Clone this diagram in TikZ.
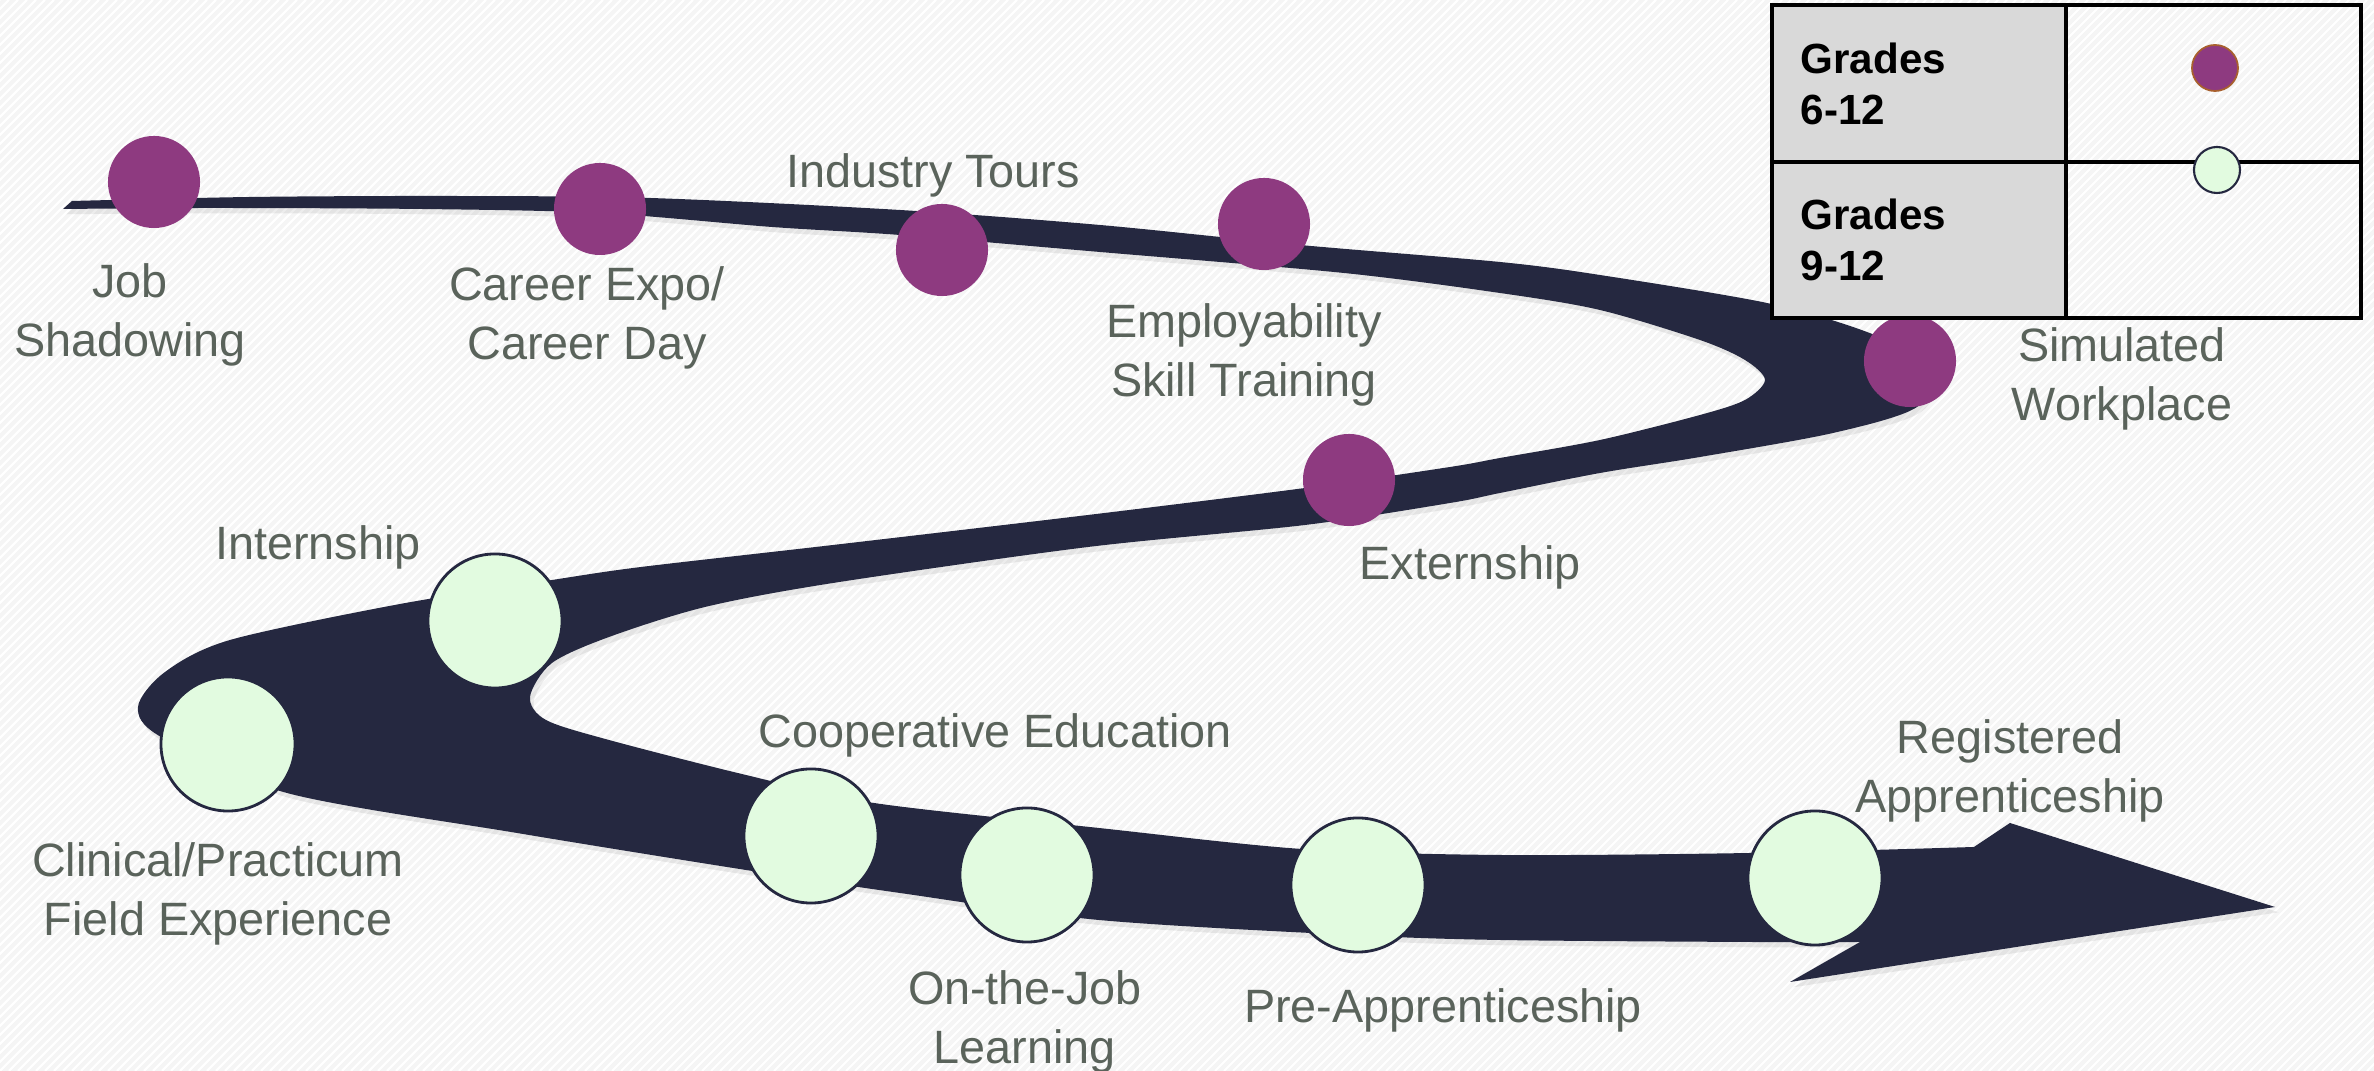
\documentclass[tikz,border=0pt]{standalone}
\usepackage{fontspec}
\setmainfont{Liberation Sans}
\usetikzlibrary{shadows}
\definecolor{ribbon}{HTML}{252840}
\definecolor{plum}{HTML}{8E3A80}
\definecolor{mint}{HTML}{E2FBE0}
\definecolor{labelgray}{HTML}{5A635B}
\definecolor{bggray}{HTML}{F5F5F5}
\definecolor{cellgray}{HTML}{D9D9D9}
\definecolor{plumrim}{HTML}{A8602E}
\begin{document}
\begin{tikzpicture}[x=0.01cm,y=-0.01cm,
    pdot/.style={circle,fill=plum,minimum size=0.92cm,inner sep=0pt},
    gdot/.style={circle,fill=mint,draw=ribbon,line width=0.8pt,minimum size=1.34cm,inner sep=0pt},
    lbl/.style={text=labelgray,align=center,inner sep=0pt,font=\fontsize{13.3}{16.8}\selectfont},
    grade/.style={anchor=west,align=left,inner sep=0pt,font=\fontsize{12}{14.5}\selectfont\bfseries}]
  \useasboundingbox (0,0) rectangle (2374,1071);
  % background
  \fill[bggray] (0,0) rectangle (2374,1071);
  \begin{scope}
    \clip (0,0) rectangle (2374,1071);
    \foreach \i in {-1080,-1071,...,2380}
      \draw[white,line width=0.6pt] (\i,1071) -- ++(1071,-1071);
  \end{scope}
  % the path
  \fill[ribbon,drop shadow={opacity=0.15,shadow xshift=1pt,shadow yshift=-1.5pt}]
    (63,209) -- plot[smooth] coordinates {(72,201) (250,197) (450,196) (650,198)
      (900,210) (1100,225) (1300,245) (1500,262) (1600,275) (1767,303) (1867,332)
      (1932,365) (1917,407) (1833,433) (1700,457) (1600,473) (1500,493) (1450,503)
      (1305,525) (1088,547) (833,583) (705,607) (609,637) (552,663) (530,697)
      (546,720) (609,740) (746,775) (874,803) (1099,828) (1302,849) (1500,855)
      (1750,853) (1974,847)}
    -- (2010,823) -- (2275,907) -- (1790,982)
    -- plot[smooth] coordinates {(1860,942) (1750,942) (1500,940) (1351,935)
      (1099,920) (900,893) (746,870) (517,833) (287,793) (161,737) (138,707)
      (165,672) (230,640) (400,604) (552,580) (641,567) (833,545) (1088,515)
      (1305,488) (1450,467) (1500,458) (1600,440) (1700,415) (1745,400) (1765,380)
      (1745,360) (1700,340) (1600,310) (1500,293) (1344,273) (1100,252) (900,235)
      (772,227) (600,213) (421,209) (210,208) (63,209)}
    -- cycle;
  % stops
  \node[pdot] (shadowing) at (154,182) {};
  \node[pdot] (expo) at (600,209) {};
  \node[pdot] (tours) at (942,250) {};
  \node[pdot] (employ) at (1264,224) {};
  \node[pdot] (simwork) at (1910,361) {};
  \node[pdot] (extern) at (1349,480) {};
  \node[gdot] (intern) at (495,621) {};
  \node[gdot] (clinical) at (228,744) {};
  \node[gdot] (coop) at (811,836) {};
  \node[gdot] (otj) at (1027,875) {};
  \node[gdot] (preapp) at (1358,885) {};
  \node[gdot] (regapp) at (1815,878) {};
  % labels
  \node[lbl] (shadowingtxt) at (130,315) {Job\\Shadowing};
  \node[lbl] (expotxt) at (587,318) {Career Expo/\\Career Day};
  \node[lbl] (tourstxt) at (933,175) {Industry Tours};
  \node[lbl] (employtxt) at (1244,355) {Employability\\Skill Training};
  \node[lbl] (simworktxt) at (2122,379) {Simulated\\Workplace};
  \node[lbl] (externtxt) at (1470,567) {Externship};
  \node[lbl] (interntxt) at (318,547) {Internship};
  \node[lbl] (clinicaltxt) at (218,894) {Clinical/Practicum\\Field Experience};
  \node[lbl] (cooptxt) at (995,735) {Cooperative Education};
  \node[lbl] (otjtxt) at (1025,1022) {On-the-Job\\Learning};
  \node[lbl] (preapptxt) at (1443,1010) {Pre-Apprenticeship};
  \node[lbl] (regapptxt) at (2010,771) {Registered\\Apprenticeship};
  % key
  \fill[cellgray] (1772,5) rectangle (2066,318);
  \draw[line width=0.9pt] (2066,5) -- (2066,318) (1772,162) -- (2361,162);
  \draw[line width=1.2pt] (1772,5) rectangle (2361,318);
  \node[grade] (g612) at (1800,84) {Grades\\6-12};
  \node[grade] (g912) at (1800,240) {Grades\\9-12};
  \node[pdot,minimum size=0.46cm,draw=plumrim,line width=0.5pt] (key612) at (2215,68) {};
  \node[gdot,minimum size=0.46cm,line width=0.6pt] (key912) at (2217,170) {};
\end{tikzpicture}
\end{document}
